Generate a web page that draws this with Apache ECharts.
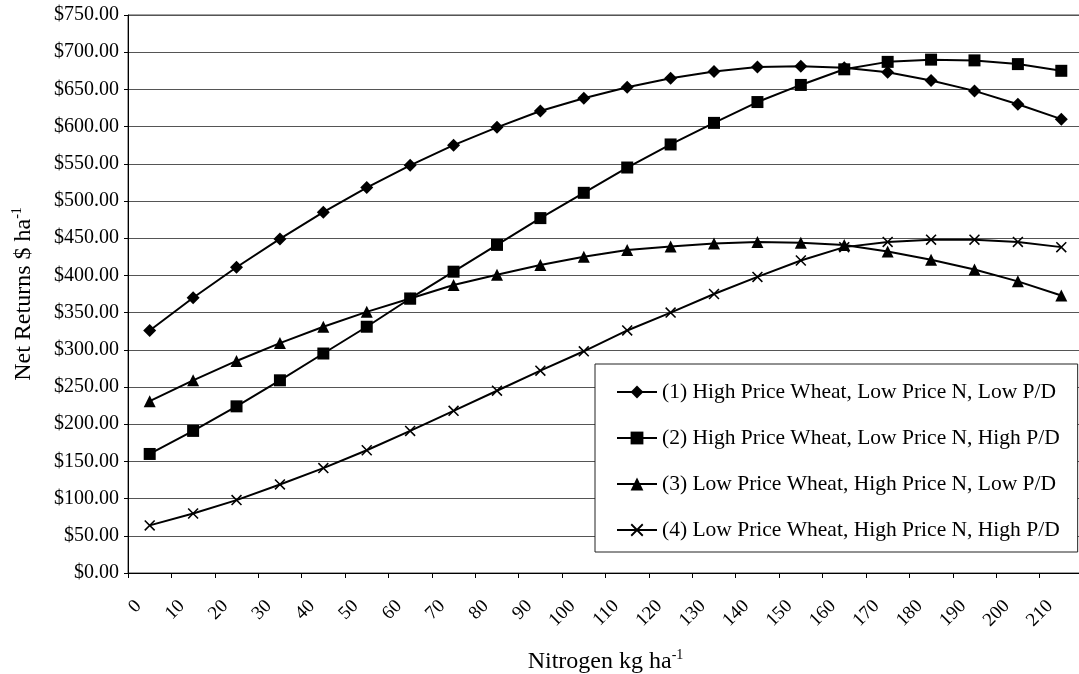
<!DOCTYPE html>
<html>
<head>
<meta charset="utf-8">
<script src="https://cdn.jsdelivr.net/npm/echarts@6/dist/echarts.min.js"></script>
<style>
html,body{margin:0;padding:0;background:#fff;}
#chart{width:1079px;height:674px;}
</style>
</head>
<body>
<div id="chart"></div>
<script>
const categories = ['0','10','20','30','40','50','60','70','80','90','100','110','120','130','140','150','160','170','180','190','200','210'];
const seriesNames = [
  '(1) High Price Wheat, Low Price N, Low P/D',
  '(2) High Price Wheat, Low Price N, High P/D',
  '(3) Low Price Wheat, High Price N, Low P/D',
  '(4) Low Price Wheat, High Price N, High P/D'
];
const s1 = [326, 370, 411, 449, 485, 518, 548, 575, 599, 621, 638, 653, 665, 674, 680, 681, 679, 673, 662, 648, 630, 610];
const s2 = [160, 191, 224, 259, 295, 331, 369, 405, 441, 477, 511, 545, 576, 605, 633, 656, 677, 687, 690, 689, 684, 675];
const s3 = [231, 259, 285, 309, 331, 351, 369, 387, 401, 414, 425, 434, 439, 443, 445, 444, 441, 432, 421, 408, 392, 373];
const s4 = [64, 80, 98, 119, 141, 165, 191, 218, 245, 272, 298, 326, 350, 375, 398, 420, 438, 445, 448, 448, 445, 438];

const FONT = '"Liberation Serif", "Times New Roman", serif';
const crossPath = 'path://M0,1L1,0L10,9L9,10Z M9,0L10,1L1,10L0,9Z';

const chart = echarts.init(document.getElementById('chart'), null, {renderer:'canvas'});

function mk(name, data, symbol, size){
  return {
    name: name, type: 'line', data: data,
    symbol: symbol, symbolSize: size, showSymbol: true,
    lineStyle: {color:'#000', width:2},
    itemStyle: {color:'#000'},
    emphasis: {disabled:true},
    z: 3
  };
}

chart.setOption({
  animation: false,
  backgroundColor: '#fff',
  textStyle: {fontFamily: FONT, color:'#000'},
  grid: {left:128, top:15, width:955, height:558, show:true, borderColor:'#444', borderWidth:1, containLabel:false, outerBoundsMode:'none'},
  legend: {
    orient:'vertical', left:595, top:364,
    backgroundColor:'#fff', borderColor:'#222', borderWidth:1,
    padding:[16,18,10,21],
    itemWidth:40, itemHeight:16, itemGap:22,
    textStyle:{fontFamily:FONT, fontSize:21.5, color:'#000', lineHeight:24},
    data: seriesNames
  },
  xAxis: {
    type:'category', data: categories, boundaryGap:true,
    axisLine:{show:true, lineStyle:{color:'#000', width:1}},
    axisTick:{show:true, inside:false, length:5, lineStyle:{color:'#000'}},
    axisLabel:{rotate:45, margin:19, padding:[0,16,0,0], fontFamily:FONT, fontSize:19, color:'#000', interval:0},
    splitLine:{show:false},
    name:'{n|Nitrogen kg ha}{s|-1}', nameLocation:'middle', nameGap:75,
    nameTextStyle:{rich:{
      n:{fontFamily:FONT, fontSize:24, color:'#000', lineHeight:28},
      s:{fontFamily:FONT, fontSize:14, color:'#000', verticalAlign:'top', lineHeight:14}
    }}
  },
  yAxis: {
    type:'value', min:0, max:750, interval:50,
    axisLine:{show:true, lineStyle:{color:'#000', width:1}},
    axisTick:{show:true, inside:false, length:4, lineStyle:{color:'#000'}},
    axisLabel:{margin:9, fontFamily:FONT, fontSize:20, color:'#000', formatter:function(v){return '$' + v.toFixed(2);}},
    splitLine:{show:true, lineStyle:{color:'#555', width:1}},
    name:'{n|Net Returns $ ha}{s|-1}', nameLocation:'middle', nameGap:90, nameRotate:90,
    nameTextStyle:{rich:{
      n:{fontFamily:FONT, fontSize:24, color:'#000', lineHeight:28},
      s:{fontFamily:FONT, fontSize:14, color:'#000', verticalAlign:'top', lineHeight:14}
    }}
  },
  series: [
    mk(seriesNames[0], s1, 'diamond', 13),
    mk(seriesNames[1], s2, 'rect', 12),
    mk(seriesNames[2], s3, 'triangle', 12),
    mk(seriesNames[3], s4, crossPath, 11)
  ]
});
</script>
</body>
</html>
